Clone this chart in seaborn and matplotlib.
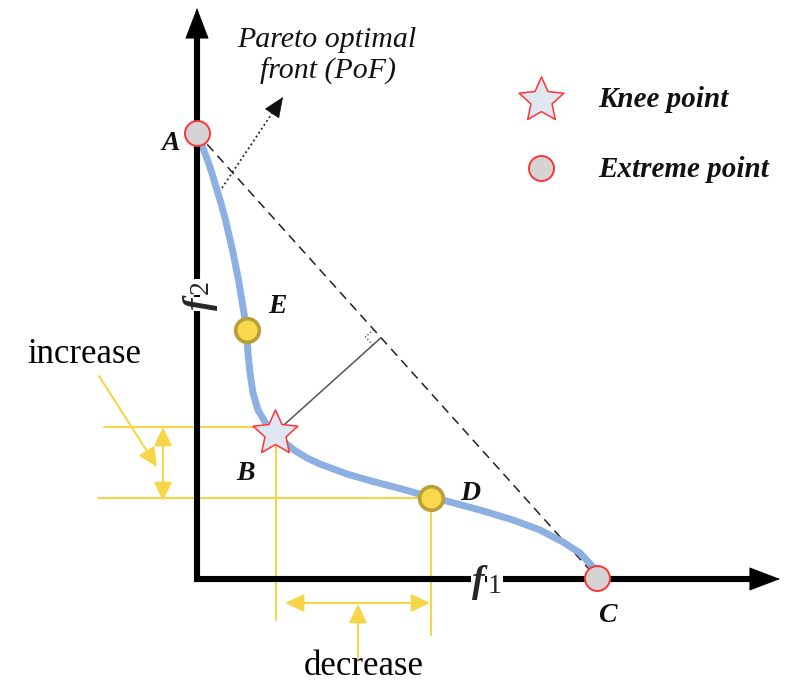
import numpy as np
import matplotlib
matplotlib.use("Agg")
import matplotlib.pyplot as plt
from matplotlib.path import Path
from matplotlib.markers import MarkerStyle
import seaborn as sns

# ---- data (objective space, arbitrary units) ----
front_f1 = [0.02, 0.06, 0.105, 0.155, 0.20, 0.245, 0.285, 0.32, 0.355, 0.385, 0.415,
            0.44, 0.465, 0.495, 0.51, 0.53, 0.56, 0.61, 0.68, 0.76, 0.86, 0.97, 1.10,
            1.23, 1.50, 1.76, 2.03, 2.26, 2.34, 2.53, 2.83, 3.16, 3.43, 3.66, 3.83,
            3.96, 4.00]
front_f2 = [4.43, 4.31, 4.19, 4.04, 3.89, 3.74, 3.59, 3.44, 3.29, 3.14, 2.99,
            2.84, 2.69, 2.49, 2.26, 2.06, 1.86, 1.69, 1.57, 1.47, 1.38, 1.29, 1.21,
            1.15, 1.05, 0.975, 0.905, 0.84, 0.82, 0.77, 0.69, 0.59, 0.49, 0.37, 0.26,
            0.12, 0.03]

extreme_names = ["A", "C"]
extreme_f1 = [0.00, 4.00]
extreme_f2 = [4.46, 0.01]

knee_name = "B"
knee_f1 = [0.78]
knee_f2 = [1.46]

other_names = ["E", "D"]
other_f1 = [0.50, 2.34]
other_f2 = [2.49, 0.815]

# guide levels for the trade-off illustration
guide_f2_knee = 1.52
guide_f1_knee = 0.79

legend_labels = ["Knee point", "Extreme point"]

# ---- style ----
sns.set_theme(style="white")
plt.rcParams["font.family"] = ["Liberation Serif", "DejaVu Serif"]

YELLOW = "#f6d548"
BLUE = "#8db0e2"
RED = "#ff3434"
GREY = "#d4d4d4"

fig = plt.figure(figsize=(7.92, 6.82), dpi=100)
ax = fig.add_axes([0, 0, 1, 1])
ax.set_xlim(-1.97, 5.95)
ax.set_ylim(-1.03, 5.79)
ax.set_axis_off()

# ---- yellow guide lines ----
kx, ky = knee_f1[0], knee_f2[0]
dx, dy = other_f1[1], other_f2[1]
ax.plot([-0.93, 0.65], [guide_f2_knee, guide_f2_knee], color=YELLOW, lw=1.5, zorder=1)
ax.plot([guide_f1_knee, guide_f1_knee], [ky - 0.07, -0.41], color=YELLOW, lw=1.5, zorder=1)
ax.plot([-0.99, dx], [dy, dy], color=YELLOW, lw=1.5, zorder=1)
ax.plot([dx, dx], [dy, -0.56], color=YELLOW, lw=1.5, zorder=1)

yarrow = dict(arrowstyle="<|-|>,head_length=0.82,head_width=0.39", mutation_scale=14,
              color=YELLOW, lw=1.5, shrinkA=0, shrinkB=0)
ax.annotate("", xy=(-0.34, 0.78), xytext=(-0.34, guide_f2_knee), arrowprops=yarrow, zorder=2)
ax.annotate("", xy=(dx - 0.01, -0.24), xytext=(0.88, -0.24), arrowprops=yarrow, zorder=2)
yarrow1 = dict(yarrow, arrowstyle="-|>,head_length=0.82,head_width=0.39")
ax.annotate("", xy=(1.61, -0.25), xytext=(1.61, -0.78), arrowprops=yarrow1, zorder=2)
ax.annotate("", xy=(-0.40, 1.12), xytext=(-0.98, 2.03), arrowprops=yarrow1, zorder=2)

ax.text(-1.13, 2.16, "increase", fontsize=25, ha="center", va="baseline", color="black")
ax.text(1.67, -0.96, "decrease", fontsize=25, ha="center", va="baseline", color="black")

# ---- line through the extreme points and perpendicular from the knee ----
ax.plot(extreme_f1, extreme_f2, color="#222222", lw=1.1, ls=(0, (6, 4)), zorder=2)
p0 = np.array([extreme_f1[0], extreme_f2[0]])
p1 = np.array([extreme_f1[1], extreme_f2[1]])
kb = np.array([kx, ky])
d = (p1 - p0) / np.linalg.norm(p1 - p0)
foot = p0 + np.dot(kb - p0, d) * d
ax.plot([kb[0], foot[0]], [kb[1], foot[1]], color="#555555", lw=1.1, zorder=2)
n = (kb - foot) / np.linalg.norm(kb - foot)
s = 0.11
sq = np.array([foot - s * d, foot - s * d + s * n, foot + s * n])
ax.plot(sq[:, 0], sq[:, 1], color="#555555", lw=1.0, ls=(0, (1, 1.5)), zorder=2)

# ---- Pareto front ----
sns.lineplot(x=front_f1, y=front_f2, ax=ax, color=BLUE, lw=5, sort=False,
             estimator=None, zorder=3, solid_joinstyle="round", solid_capstyle="round")

# ---- axes with arrow heads ----
ax.plot([0, 0, 5.55], [5.45, 0, 0], color="black", lw=4.4, solid_joinstyle="miter",
        solid_capstyle="butt", zorder=4)
harrow = dict(arrowstyle="-|>,head_length=1.05,head_width=0.4", mutation_scale=20,
              color="black", lw=0.5, shrinkA=0, shrinkB=0)
ax.annotate("", xy=(0, 5.71), xytext=(0, 5.3), arrowprops=harrow, zorder=4)
ax.annotate("", xy=(5.83, 0), xytext=(5.4, 0), arrowprops=harrow, zorder=4)

white = dict(facecolor="white", edgecolor="none", pad=0.5)
ax.text(2.81, -0.13, "f", fontsize=27, style="italic", weight="bold", ha="center",
        va="baseline", zorder=5, bbox=white)
ax.text(2.98, -0.14, "1", fontsize=20, ha="center", va="baseline", zorder=5, bbox=white)
ax.text(0.03, 2.75, "f", fontsize=27, style="italic", weight="bold", ha="center",
        va="center", rotation=90, zorder=5, bbox=white)
ax.text(0.04, 2.92, "2", fontsize=20, ha="center", va="center", rotation=90, zorder=5,
        bbox=white)

# ---- points ----
star = MarkerStyle(Path.unit_regular_star(5, 0.47))
sns.scatterplot(x=other_f1, y=other_f2, ax=ax, s=290, color="#f9d84c",
                edgecolor="#b89f3a", linewidth=2.6, zorder=6)
sns.scatterplot(x=extreme_f1, y=extreme_f2, ax=ax, s=324, color=GREY,
                edgecolor=RED, linewidth=1.4, zorder=6)
sns.scatterplot(x=knee_f1, y=knee_f2, ax=ax, marker=star, s=1150, color="#dfe7f3",
                edgecolor=RED, linewidth=1.1, zorder=7)

# ---- point labels ----
lab = dict(fontsize=20, style="italic", weight="bold", ha="center", va="baseline",
           color="#111111", zorder=8)
label_pos = {"A": (-0.26, 4.29), "C": (4.10, -0.43), "B": (0.49, 0.99),
             "E": (0.80, 2.66), "D": (2.73, 0.79)}
for name in extreme_names + [knee_name] + other_names:
    ax.text(*label_pos[name], name, **lab)

# ---- pointer to the front ----
ax.plot([0.25, 0.80], [3.91, 4.73], color="#222222", lw=1.3, ls=(0, (1, 1.6)), zorder=2)
parrow = dict(arrowstyle="-|>,head_length=0.75,head_width=0.32", mutation_scale=18,
              color="#111111", lw=0.5, shrinkA=0, shrinkB=0)
ax.annotate("", xy=(0.86, 4.82), xytext=(0.76, 4.67), arrowprops=parrow, zorder=3)
ax.text(1.30, 5.32, "Pareto optimal", fontsize=21.5, style="italic", ha="center",
        va="baseline", color="#111111")
ax.text(1.31, 5.00, "front (PoF)", fontsize=21.5, style="italic", ha="center",
        va="baseline", color="#111111")

# ---- legend ----
sns.scatterplot(x=[3.44], y=[4.79], ax=ax, marker=star, s=1150, color="#dfe7f3",
                edgecolor=RED, linewidth=1.1, zorder=7)
sns.scatterplot(x=[3.44], y=[4.11], ax=ax, s=324, color=GREY, edgecolor=RED,
                linewidth=1.4, zorder=7)
ax.text(4.01, 4.72, legend_labels[0], fontsize=21, style="italic", weight="bold",
        ha="left", va="baseline", color="#111111")
ax.text(4.01, 4.02, legend_labels[1], fontsize=21, style="italic", weight="bold",
        ha="left", va="baseline", color="#111111")

if ax.get_legend() is not None:
    ax.get_legend().remove()

fig.savefig("out.png", dpi=100)
